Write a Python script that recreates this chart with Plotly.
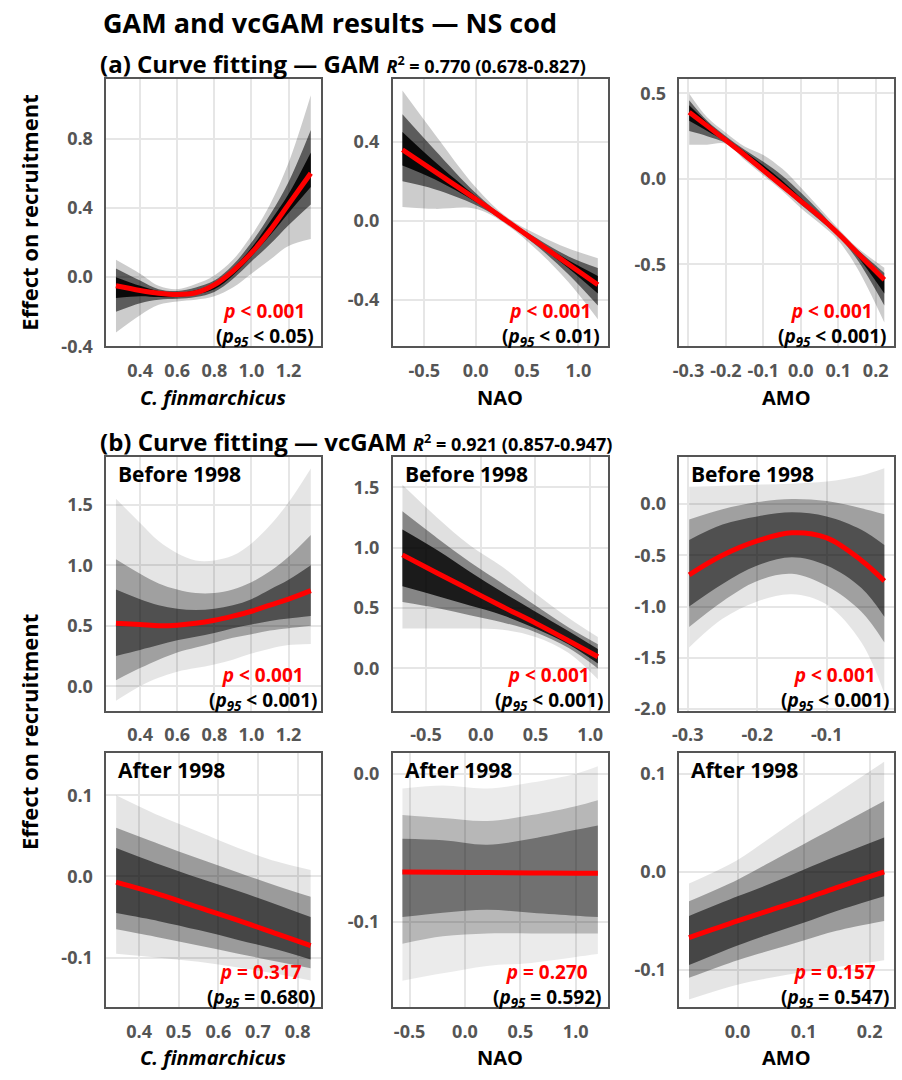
import plotly.graph_objects as go

W, H = 902, 1080

# ---------------- data ----------------
# (a) GAM - C. finmarchicus
p1_x = [0.27, 0.4, 0.5, 0.6, 0.7, 0.8, 0.9, 1.0, 1.1, 1.2, 1.32]
p1_fit = [-0.05, -0.077, -0.093, -0.10, -0.09, -0.045, 0.035, 0.14, 0.27, 0.42, 0.60]
p1_out_lo = [-0.32, -0.22, -0.16, -0.14, -0.13, -0.11, -0.06, 0.02, 0.10, 0.18, 0.22]
p1_out_hi = [0.10, 0.02, -0.05, -0.07, -0.04, 0.01, 0.10, 0.24, 0.42, 0.66, 1.05]
p1_mid_lo = [-0.20, -0.15, -0.13, -0.125, -0.115, -0.085, -0.01, 0.09, 0.19, 0.30, 0.42]
p1_mid_hi = [0.05, -0.02, -0.07, -0.08, -0.06, -0.02, 0.07, 0.20, 0.36, 0.55, 0.85]
p1_core_lo = [-0.12, -0.11, -0.115, -0.115, -0.10, -0.07, 0.01, 0.12, 0.24, 0.37, 0.52]
p1_core_hi = [0.0, -0.05, -0.08, -0.09, -0.075, -0.035, 0.05, 0.17, 0.32, 0.48, 0.72]

# (a) GAM - NAO
p2_x = [-0.713, -0.4, 0.0, 0.3, 0.6, 0.9, 1.19]
p2_fit = [0.36, 0.25, 0.11, 0.0, -0.11, -0.22, -0.325]
p2_out_lo = [0.07, 0.06, 0.06, -0.02, -0.15, -0.31, -0.50]
p2_out_hi = [0.66, 0.44, 0.17, 0.02, -0.07, -0.14, -0.19]
p2_mid_lo = [0.20, 0.16, 0.08, -0.01, -0.13, -0.27, -0.43]
p2_mid_hi = [0.54, 0.36, 0.14, 0.01, -0.09, -0.18, -0.24]
p2_core_lo = [0.28, 0.21, 0.095, -0.008, -0.12, -0.24, -0.37]
p2_core_hi = [0.45, 0.30, 0.125, 0.008, -0.10, -0.20, -0.28]

# (a) GAM - AMO
p3_x = [-0.298, -0.25, -0.2, -0.15, -0.1, -0.05, 0.0, 0.05, 0.1, 0.15, 0.223]
p3_fit = [0.39, 0.31, 0.225, 0.14, 0.05, -0.04, -0.13, -0.22, -0.32, -0.43, -0.59]
p3_out_lo = [0.20, 0.20, 0.205, 0.11, 0.02, -0.07, -0.17, -0.26, -0.36, -0.52, -0.84]
p3_out_hi = [0.50, 0.36, 0.27, 0.19, 0.14, 0.06, -0.05, -0.17, -0.29, -0.40, -0.52]
p3_mid_lo = [0.28, 0.25, 0.21, 0.125, 0.035, -0.055, -0.15, -0.24, -0.335, -0.47, -0.74]
p3_mid_hi = [0.46, 0.34, 0.25, 0.17, 0.10, 0.02, -0.08, -0.19, -0.31, -0.41, -0.55]
p3_core_lo = [0.34, 0.28, 0.215, 0.13, 0.04, -0.05, -0.14, -0.23, -0.33, -0.45, -0.67]
p3_core_hi = [0.43, 0.33, 0.24, 0.16, 0.08, -0.01, -0.11, -0.21, -0.315, -0.42, -0.58]

# (b) vcGAM before 1998 - C. finmarchicus
p4_x = [0.27, 0.4, 0.5, 0.6, 0.7, 0.8, 0.9, 1.0, 1.1, 1.2, 1.32]
p4_fit = [0.52, 0.51, 0.50, 0.505, 0.52, 0.545, 0.58, 0.62, 0.67, 0.72, 0.79]
p4_out_lo = [-0.12, 0.0, 0.07, 0.12, 0.15, 0.18, 0.22, 0.27, 0.31, 0.34, 0.35]
p4_out_hi = [1.55, 1.35, 1.20, 1.10, 1.04, 1.04, 1.08, 1.18, 1.33, 1.52, 1.80]
p4_mid_lo = [0.05, 0.15, 0.22, 0.28, 0.32, 0.36, 0.40, 0.43, 0.46, 0.48, 0.50]
p4_mid_hi = [1.05, 0.93, 0.85, 0.80, 0.77, 0.77, 0.80, 0.86, 0.95, 1.07, 1.25]
p4_core_lo = [0.25, 0.30, 0.34, 0.38, 0.41, 0.44, 0.48, 0.51, 0.54, 0.56, 0.58]
p4_core_hi = [0.80, 0.72, 0.67, 0.64, 0.63, 0.64, 0.67, 0.72, 0.80, 0.88, 1.00]

# (b) vcGAM before 1998 - NAO
p5_x = [-0.716, -0.4, -0.1, 0.2, 0.5, 0.8, 1.07]
p5_fit = [0.94, 0.79, 0.65, 0.51, 0.375, 0.23, 0.096]
p5_out_lo = [0.33, 0.33, 0.33, 0.32, 0.26, 0.13, -0.09]
p5_out_hi = [1.52, 1.25, 1.02, 0.84, 0.62, 0.42, 0.26]
p5_mid_lo = [0.55, 0.50, 0.44, 0.38, 0.30, 0.17, 0.0]
p5_mid_hi = [1.30, 1.08, 0.88, 0.70, 0.52, 0.34, 0.20]
p5_core_lo = [0.68, 0.60, 0.52, 0.44, 0.33, 0.20, 0.04]
p5_core_hi = [1.15, 0.98, 0.80, 0.63, 0.47, 0.31, 0.16]

# (b) vcGAM before 1998 - AMO
p6_x = [-0.298, -0.25, -0.2, -0.15, -0.1, -0.05, -0.017]
p6_fit = [-0.69, -0.50, -0.36, -0.28, -0.33, -0.55, -0.75]
p6_out_lo = [-1.40, -1.12, -0.95, -0.88, -0.98, -1.35, -1.85]
p6_out_hi = [0.17, 0.18, 0.19, 0.20, 0.22, 0.28, 0.35]
p6_mid_lo = [-1.20, -0.95, -0.75, -0.68, -0.80, -1.05, -1.35]
p6_mid_hi = [-0.15, -0.05, 0.02, 0.05, 0.03, -0.04, -0.10]
p6_core_lo = [-1.00, -0.78, -0.60, -0.52, -0.60, -0.82, -1.10]
p6_core_hi = [-0.35, -0.20, -0.12, -0.08, -0.12, -0.25, -0.40]

# (b) vcGAM after 1998 - C. finmarchicus
p7_x = [0.342, 0.45, 0.55, 0.65, 0.75, 0.833]
p7_fit = [-0.007, -0.022, -0.038, -0.054, -0.071, -0.085]
p7_out_lo = [-0.095, -0.100, -0.105, -0.112, -0.120, -0.128]
p7_out_hi = [0.10, 0.075, 0.055, 0.035, 0.018, 0.008]
p7_mid_lo = [-0.065, -0.075, -0.085, -0.095, -0.105, -0.113]
p7_mid_hi = [0.060, 0.040, 0.022, 0.005, -0.012, -0.025]
p7_core_lo = [-0.045, -0.055, -0.066, -0.078, -0.090, -0.102]
p7_core_hi = [0.035, 0.015, -0.002, -0.018, -0.035, -0.050]

# (b) vcGAM after 1998 - NAO
p8_x = [-0.565, -0.2, 0.2, 0.6, 1.0, 1.20]
p8_fit = [-0.0665, -0.0667, -0.0669, -0.0671, -0.0673, -0.0674]
p8_out_lo = [-0.140, -0.135, -0.130, -0.128, -0.124, -0.122]
p8_out_hi = [-0.010, -0.008, -0.010, -0.006, 0.000, 0.005]
p8_mid_lo = [-0.115, -0.110, -0.108, -0.108, -0.108, -0.108]
p8_mid_hi = [-0.028, -0.030, -0.032, -0.028, -0.022, -0.018]
p8_core_lo = [-0.097, -0.094, -0.092, -0.094, -0.096, -0.097]
p8_core_hi = [-0.044, -0.045, -0.048, -0.044, -0.038, -0.035]

# (b) vcGAM after 1998 - AMO
p9_x = [-0.0735, 0.0, 0.05, 0.1, 0.15, 0.222]
p9_fit = [-0.067, -0.050, -0.039, -0.028, -0.016, 0.0]
p9_out_lo = [-0.130, -0.115, -0.108, -0.102, -0.097, -0.090]
p9_out_hi = [-0.012, 0.012, 0.035, 0.058, 0.080, 0.112]
p9_mid_lo = [-0.108, -0.090, -0.080, -0.070, -0.060, -0.050]
p9_mid_hi = [-0.030, -0.008, 0.010, 0.028, 0.046, 0.072]
p9_core_lo = [-0.095, -0.075, -0.063, -0.052, -0.040, -0.025]
p9_core_hi = [-0.045, -0.025, -0.012, 0.002, 0.016, 0.035]

# tick values / labels
cfin_ticks_a = [0.4, 0.6, 0.8, 1.0, 1.2]
cfin_labels_a = ["0.4", "0.6", "0.8", "1.0", "1.2"]
nao_ticks = [-0.5, 0.0, 0.5, 1.0]
nao_labels = ["-0.5", "0.0", "0.5", "1.0"]
amo_ticks_a = [-0.3, -0.2, -0.1, 0.0, 0.1, 0.2]
amo_labels_a = ["-0.3", "-0.2", "-0.1", "0.0", "0.1", "0.2"]
amo_ticks_b = [-0.3, -0.2, -0.1]
amo_labels_b = ["-0.3", "-0.2", "-0.1"]
cfin_ticks_c = [0.4, 0.5, 0.6, 0.7, 0.8]
cfin_labels_c = ["0.4", "0.5", "0.6", "0.7", "0.8"]
amo_ticks_c = [0.0, 0.1, 0.2]
amo_labels_c = ["0.0", "0.1", "0.2"]

y1_ticks = [-0.4, 0.0, 0.4, 0.8]; y1_labels = ["-0.4", "0.0", "0.4", "0.8"]
y2_ticks = [-0.4, 0.0, 0.4]; y2_labels = ["-0.4", "0.0", "0.4"]
y3_ticks = [-0.5, 0.0, 0.5]; y3_labels = ["-0.5", "0.0", "0.5"]
y4_ticks = [0.0, 0.5, 1.0, 1.5]; y4_labels = ["0.0", "0.5", "1.0", "1.5"]
y5_ticks = [0.0, 0.5, 1.0, 1.5]; y5_labels = ["0.0", "0.5", "1.0", "1.5"]
y6_ticks = [-2.0, -1.5, -1.0, -0.5, 0.0]; y6_labels = ["-2.0", "-1.5", "-1.0", "-0.5", "0.0"]
y7_ticks = [-0.1, 0.0, 0.1]; y7_labels = ["-0.1", "0.0", "0.1"]
y8_ticks = [-0.1, 0.0]; y8_labels = ["-0.1", "0.0"]
y9_ticks = [-0.1, 0.0, 0.1]; y9_labels = ["-0.1", "0.0", "0.1"]

p_texts = ["< 0.001", "< 0.001", "< 0.001", "< 0.001", "< 0.001", "< 0.001",
           "= 0.317", "= 0.270", "= 0.157"]
p95_texts = ["< 0.05", "< 0.01", "< 0.001", "< 0.001", "< 0.001", "< 0.001",
             "= 0.680", "= 0.592", "= 0.547"]
period_labels = ["", "", "", "Before 1998", "Before 1998", "Before 1998",
                 "After 1998", "After 1998", "After 1998"]

# ---------------- layout geometry ----------------
cols_px = [(100, 316), (388.7, 605.3), (677.7, 894)]
rows_px = [(80, 350), (461.7, 718), (760.7, 1017.7)]

panels = [
    dict(x=p1_x, fit=p1_fit, bands=[(p1_out_lo, p1_out_hi), (p1_mid_lo, p1_mid_hi), (p1_core_lo, p1_core_hi)],
         alphas=[0.2, 0.55, 0.9], xr=[0.2175, 1.3725], yr=[-0.40, 1.143],
         xt=cfin_ticks_a, xl=cfin_labels_a, yt=y1_ticks, yl=y1_labels, poff=56),
    dict(x=p2_x, fit=p2_fit, bands=[(p2_out_lo, p2_out_hi), (p2_mid_lo, p2_mid_hi), (p2_core_lo, p2_core_hi)],
         alphas=[0.2, 0.55, 0.9], xr=[-0.808, 1.285], yr=[-0.638, 0.718],
         xt=nao_ticks, xl=nao_labels, yt=y2_ticks, yl=y2_labels, poff=57),
    dict(x=p3_x, fit=p3_fit, bands=[(p3_out_lo, p3_out_hi), (p3_mid_lo, p3_mid_hi), (p3_core_lo, p3_core_hi)],
         alphas=[0.2, 0.55, 0.9], xr=[-0.324, 0.249], yr=[-0.98, 0.583],
         xt=amo_ticks_a, xl=amo_labels_a, yt=y3_ticks, yl=y3_labels, poff=63),
    dict(x=p4_x, fit=p4_fit, bands=[(p4_out_lo, p4_out_hi), (p4_mid_lo, p4_mid_hi), (p4_core_lo, p4_core_hi)],
         alphas=[0.1, 0.3, 0.5], xr=[0.2175, 1.3725], yr=[-0.202, 1.895],
         xt=cfin_ticks_a, xl=cfin_labels_a, yt=y4_ticks, yl=y4_labels, poff=58),
    dict(x=p5_x, fit=p5_fit, bands=[(p5_out_lo, p5_out_hi), (p5_mid_lo, p5_mid_hi), (p5_core_lo, p5_core_hi)],
         alphas=[0.12, 0.4, 0.8], xr=[-0.805, 1.159], yr=[-0.35, 1.75],
         xt=nao_ticks, xl=nao_labels, yt=y5_ticks, yl=y5_labels, poff=59),
    dict(x=p6_x, fit=p6_fit, bands=[(p6_out_lo, p6_out_hi), (p6_mid_lo, p6_mid_hi), (p6_core_lo, p6_core_hi)],
         alphas=[0.1, 0.3, 0.5], xr=[-0.312, -0.003], yr=[-2.017, 0.46],
         xt=amo_ticks_b, xl=amo_labels_b, yt=y6_ticks, yl=y6_labels, poff=60),
    dict(x=p7_x, fit=p7_fit, bands=[(p7_out_lo, p7_out_hi), (p7_mid_lo, p7_mid_hi), (p7_core_lo, p7_core_hi)],
         alphas=[0.1, 0.32, 0.55], xr=[0.317, 0.858], yr=[-0.161, 0.152],
         xt=cfin_ticks_c, xl=cfin_labels_c, yt=y7_ticks, yl=y7_labels, poff=60),
    dict(x=p8_x, fit=p8_fit, bands=[(p8_out_lo, p8_out_hi), (p8_mid_lo, p8_mid_hi), (p8_core_lo, p8_core_hi)],
         alphas=[0.08, 0.22, 0.38], xr=[-0.653, 1.288], yr=[-0.158, 0.014],
         xt=nao_ticks, xl=nao_labels, yt=y8_ticks, yl=y8_labels, poff=61),
    dict(x=p9_x, fit=p9_fit, bands=[(p9_out_lo, p9_out_hi), (p9_mid_lo, p9_mid_hi), (p9_core_lo, p9_core_hi)],
         alphas=[0.1, 0.32, 0.55], xr=[-0.088, 0.237], yr=[-0.138, 0.121],
         xt=amo_ticks_c, xl=amo_labels_c, yt=y9_ticks, yl=y9_labels, poff=60),
]

FONT = "Open Sans"
TICK_FONT = dict(family=FONT, size=18, color="#555555", weight="bold")

fig = go.Figure()
layout = dict(
    width=W, height=H, margin=dict(l=0, r=0, t=0, b=0),
    paper_bgcolor="white", plot_bgcolor="white", showlegend=False,
    font=dict(family=FONT),
)
annotations = []


def px_x(px):
    return px / W


def px_y(py):
    return 1 - py / H


for i, p in enumerate(panels):
    n = i + 1
    r, c = divmod(i, 3)
    (l, rr), (t, b) = cols_px[c], rows_px[r]
    xa = "x" if n == 1 else f"x{n}"
    ya = "y" if n == 1 else f"y{n}"
    # bootstrap envelope bands
    for (lo, hi), a in zip(p["bands"], p["alphas"]):
        fig.add_trace(go.Scatter(x=p["x"], y=lo, mode="lines", line=dict(width=0, shape="spline"),
                                 hoverinfo="skip", xaxis=xa, yaxis=ya))
        fig.add_trace(go.Scatter(x=p["x"], y=hi, mode="lines", line=dict(width=0, shape="spline"),
                                 fill="tonexty", fillcolor=f"rgba(0,0,0,{a})",
                                 hoverinfo="skip", xaxis=xa, yaxis=ya))
    # fitted curve
    fig.add_trace(go.Scatter(x=p["x"], y=p["fit"], mode="lines",
                             line=dict(color="#ff0000", width=5, shape="spline"),
                             hoverinfo="skip", xaxis=xa, yaxis=ya))
    common = dict(showgrid=True, gridcolor="#e6e6e6", gridwidth=2, zeroline=False,
                  showline=True, linecolor="#555555", linewidth=1.5, mirror=True,
                  ticks="", tickfont=TICK_FONT, fixedrange=True)
    layout["xaxis" if n == 1 else f"xaxis{n}"] = dict(
        domain=[px_x(l), px_x(rr)], range=p["xr"], tickmode="array",
        tickvals=p["xt"], ticktext=p["xl"], anchor=ya, ticklabelstandoff=7, **common)
    layout["yaxis" if n == 1 else f"yaxis{n}"] = dict(
        domain=[px_y(b), px_y(t)], range=p["yr"], tickmode="array",
        tickvals=p["yt"], ticktext=p["yl"], anchor=xa, ticklabelstandoff=8, **common)

    cx = rr - p["poff"]
    ptxt = (f"<span style='color:#ff0000'><b><i>p</i> {p_texts[i].replace('<', '&lt;')}</b></span><br>"
            f"<b>(<i>p</i><sub><i>95</i></sub> {p95_texts[i].replace('<', '&lt;')})</b>")
    annotations.append(dict(
        x=px_x(cx), y=px_y(b - 22), xref="paper", yref="paper", xanchor="center", yanchor="middle",
        text=ptxt, align="center", showarrow=False,
        font=dict(family=FONT, size=19, color="#000000")))
    if period_labels[i]:
        annotations.append(dict(
            x=px_x(l + 10), y=px_y(t + 17), xref="paper", yref="paper", xanchor="left", yanchor="middle",
            text=f"<b>{period_labels[i]}</b>", showarrow=False,
            font=dict(family=FONT, size=21, color="#000000")))

# axis titles
x_titles = ["<b><i>C. finmarchicus</i></b>", "<b>NAO</b>", "<b>AMO</b>"]
for c, txt in enumerate(x_titles):
    cxp = (cols_px[c][0] + cols_px[c][1]) / 2
    for ty in (402, 1068):
        annotations.append(dict(x=px_x(cxp), y=px_y(ty), xref="paper", yref="paper",
                                xanchor="center", yanchor="middle", text=txt, showarrow=False,
                                font=dict(family=FONT, size=20, color="#000000")))

for cy in ((rows_px[0][0] + rows_px[0][1]) / 2, (rows_px[1][0] + rows_px[2][1]) / 2):
    annotations.append(dict(x=px_x(22), y=px_y(cy), xref="paper", yref="paper",
                            xanchor="center", yanchor="middle", textangle=-90,
                            text="<b>Effect on recruitment</b>", showarrow=False,
                            font=dict(family=FONT, size=22, color="#000000")))

# titles
annotations.append(dict(x=px_x(95), y=px_y(23), xref="paper", yref="paper", xanchor="left",
                        yanchor="middle", showarrow=False,
                        text="<b>GAM and vcGAM results — NS cod</b>",
                        font=dict(family=FONT, size=27, color="#000000")))
annotations.append(dict(x=px_x(92), y=px_y(64), xref="paper", yref="paper", xanchor="left",
                        yanchor="middle", showarrow=False,
                        text="<b>(a) Curve fitting — GAM <span style='font-size:18px'><i>R</i><sup>2</sup> = 0.770 (0.678-0.827)</span></b>",
                        font=dict(family=FONT, size=24, color="#000000")))
annotations.append(dict(x=px_x(92), y=px_y(446), xref="paper", yref="paper", xanchor="left",
                        yanchor="middle", showarrow=False,
                        text="<b>(b) Curve fitting — vcGAM <span style='font-size:18px'><i>R</i><sup>2</sup> = 0.921 (0.857-0.947)</span></b>",
                        font=dict(family=FONT, size=24, color="#000000")))

layout["annotations"] = annotations
fig.update_layout(**layout)
fig.write_html("out.html")
